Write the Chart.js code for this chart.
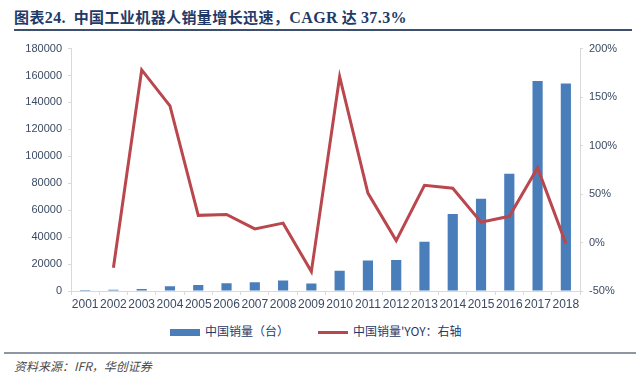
<!DOCTYPE html>
<html>
<head>
<meta charset="utf-8">
<script src="https://cdn.jsdelivr.net/npm/chart.js@4.4.1/dist/chart.umd.min.js"></script>
<style>
  body { margin: 0; background: #fff; font-family: "Noto Sans CJK SC", sans-serif; }
  #wrap { position: relative; width: 640px; height: 388px; overflow: hidden; }
  #title { position: absolute; left: 14px; top: 6px; font-size: 15px; font-weight: bold; color: #1f3a68; white-space: nowrap; letter-spacing: 0.4px; }
  #title .en { font-family: "Liberation Serif", serif; font-size: 16px; }
  #rule1 { position: absolute; left: 14px; top: 29px; width: 618px; height: 2px; background: #3d4f6e; }
  #box { position: absolute; left: 0; top: 36px; width: 640px; height: 277px; }
  #legend { position: absolute; top: 322px; left: 0; width: 640px; font-size: 12px; color: #1f3a68; }
  .item { position: absolute; top: 0; white-space: nowrap; }
  .sw { display: inline-block; vertical-align: middle; margin-right: 5px; }
  #rule2 { position: absolute; left: 4px; top: 352px; width: 632px; height: 2px; background: #8e96a3; }
  #src { position: absolute; left: 14px; top: 357px; font-size: 12px; font-style: italic; color: #4a4a4a; }
</style>
</head>
<body>
<div id="wrap">
  <div id="title">图表<span class="en">24.</span>&nbsp; 中国工业机器人销量增长迅速，<span class="en">CAGR</span> 达 <span class="en">37.3%</span></div>
  <div id="rule1"></div>
  <div id="box"><canvas id="c"></canvas></div>
  <div id="legend">
    <div class="item" style="left:170px"><span class="sw" style="width:30px;height:7px;background:#4a7ebb"></span>中国销量（台）</div>
    <div class="item" style="left:318px"><span class="sw" style="width:30px;height:3px;background:#b9474d"></span>中国销量'YOY：右轴</div>
  </div>
  <div id="rule2"></div>
  <div id="src">资料来源：IFR，华创证券</div>
</div>
<script>
const years = ["2001","2002","2003","2004","2005","2006","2007","2008","2009","2010","2011","2012","2013","2014","2015","2016","2017","2018"];
const sales = [700, 900, 1451, 3493, 4461, 5770, 6581, 7879, 5525, 14978, 22577, 22987, 36560, 57096, 68556, 87000, 156000, 154000];
const yoy = [null, -0.26, 1.78, 1.41, 0.28, 0.29, 0.14, 0.20, -0.30, 1.71, 0.51, 0.02, 0.59, 0.56, 0.21, 0.27, 0.77, -0.01];

const tickColor = "#3b4a63";
const axisColor = "#d9d9d9";

new Chart(document.getElementById("c"), {
  type: "bar",
  data: {
    labels: years,
    datasets: [
      {
        type: "line",
        label: "中国销量'YOY：右轴",
        data: yoy,
        yAxisID: "y1",
        borderColor: "#b9474d",
        borderWidth: 3,
        pointRadius: 0,
        tension: 0,
        spanGaps: true,
        order: 0,
      },
      {
        label: "中国销量（台）",
        data: sales,
        yAxisID: "y",
        backgroundColor: "#4a7ebb",
        categoryPercentage: 1,
        barPercentage: 0.36,
        order: 1,
      },
    ],
  },
  options: {
    responsive: true,
    maintainAspectRatio: false,
    animation: false,
    layout: { padding: { top: 9, right: 0, left: 0, bottom: 0 } },
    plugins: { legend: { display: false }, tooltip: { enabled: false } },
    scales: {
      x: {
        offset: true,
        grid: { offset: true, drawOnChartArea: false, color: axisColor, tickLength: 4 },
        border: { color: axisColor },
        ticks: { color: tickColor, font: { family: "Liberation Sans", size: 12 }, maxRotation: 0, autoSkip: false, padding: 2 },
        afterFit: (s) => { s.height = 22; },
      },
      y: {
        position: "left",
        min: 0,
        max: 180000,
        ticks: { stepSize: 20000, color: tickColor, font: { family: "Liberation Sans", size: 11 }, padding: 6, callback: (v) => String(v) },
        grid: { display: true, drawOnChartArea: false, color: axisColor, tickLength: 3 },
        border: { color: axisColor },
        afterFit: (s) => { s.width = 71; },
      },
      y1: {
        position: "right",
        min: -0.5,
        max: 2,
        ticks: {
          stepSize: 0.5,
          color: tickColor,
          font: { family: "Liberation Sans", size: 11 },
          padding: 6,
          callback: (v) => Math.round(v * 100) + "%",
        },
        grid: { drawOnChartArea: false, color: axisColor, tickLength: 3 },
        border: { color: axisColor },
        afterFit: (s) => { s.width = 60; },
      },
    },
  },
});
</script>
</body>
</html>
